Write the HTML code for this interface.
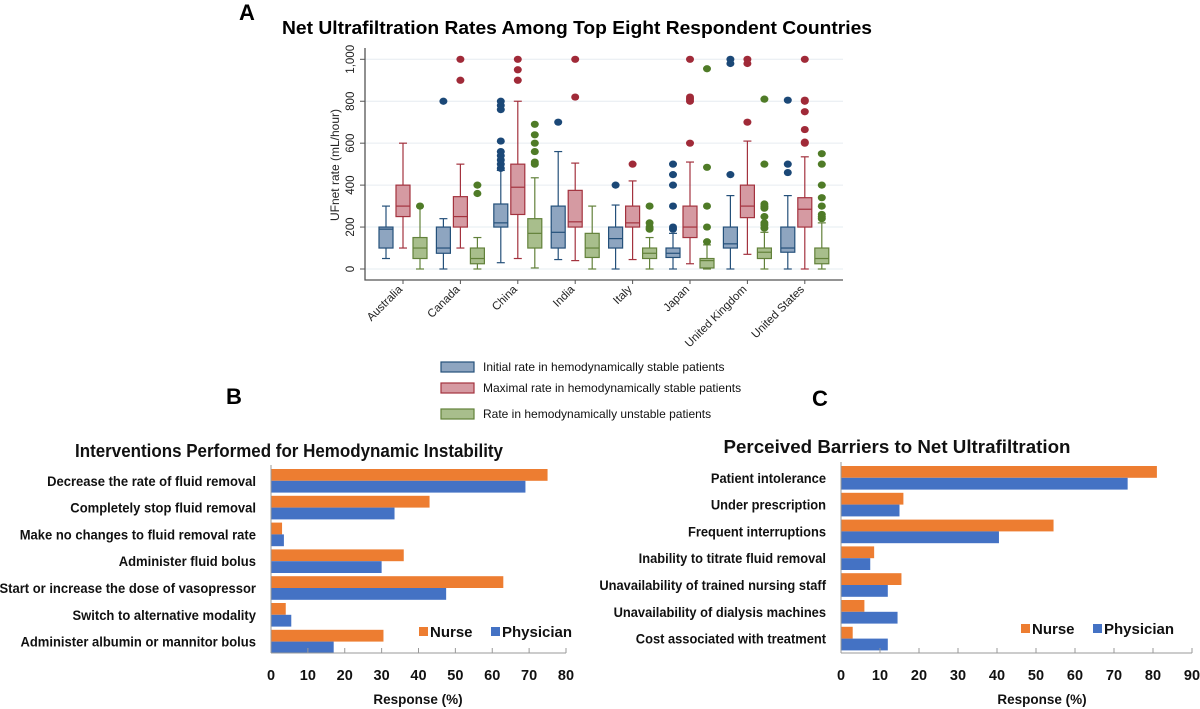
<!DOCTYPE html>
<html><head><meta charset="utf-8"><style>
html,body{margin:0;padding:0;background:#fff;}
svg{display:block;font-family:"Liberation Sans",sans-serif;}
</style></head><body>
<svg id="fig" width="1200" height="709" viewBox="0 0 1200 709" xmlns="http://www.w3.org/2000/svg">
<text x="247" y="20" font-size="22" font-weight="bold" text-anchor="middle">A</text>
<text x="577" y="34" font-size="18" font-weight="bold" text-anchor="middle" textLength="590" lengthAdjust="spacingAndGlyphs">Net Ultrafiltration Rates Among Top Eight Respondent Countries</text>
<text x="234" y="404" font-size="22" font-weight="bold" text-anchor="middle">B</text>
<text x="820" y="406" font-size="22" font-weight="bold" text-anchor="middle">C</text>
<g id="chartA"></g>
<g id="chartB"></g>
<g id="chartC"></g>
</svg>
<script>
// ---- Panel A data ----
const countries = ["Australia","Canada","China","India","Italy","Japan","United Kingdom","United States"];
const seriesNames = ["Initial rate in hemodynamically stable patients","Maximal rate in hemodynamically stable patients","Rate in hemodynamically unstable patients"];
// [whiskerLow, q1, median, q3, whiskerHigh]
const initialStats = [[50,100,190,200,300],[0,75,100,200,240],[30,200,220,310,470],[45,100,175,300,560],[0,100,145,200,305],[0,55,75,100,170],[0,100,120,200,350],[0,80,100,200,350]];
const maximalStats = [[100,250,300,400,600],[100,200,250,345,500],[50,260,390,500,800],[40,200,225,375,505],[45,200,220,300,420],[25,150,200,300,510],[70,245,300,400,610],[0,200,285,340,535]];
const unstableStats = [[0,50,100,150,300],[0,25,50,100,150],[5,100,170,240,435],[0,55,100,170,300],[0,50,75,100,150],[0,5,40,50,115],[0,50,80,100,175],[0,25,50,100,220]];
const initialOut = [[],[800],[480,500,520,540,560,610,760,780,800],[700],[400],[190,200,300,400,450,500],[450,980,1000],[460,500,805]];
const maximalOut = [[],[900,1000],[900,950,1000],[820,1000],[500],[600,800,810,820,1000],[700,980,1000],[600,605,665,750,800,805,1000]];
const unstableOut = [[300],[360,400],[500,510,560,600,640,690],[],[190,200,220,300],[130,200,300,485,955],[195,210,220,250,290,300,310,500,810],[240,250,260,300,340,400,500,550]];
const yTicksA = [0,200,400,600,800,1000];
const yTickLabelsA = ["0","200","400","600","800","1,000"];

// ---- Panel B data ----
const interventions = ["Decrease the rate of fluid removal","Completely stop fluid removal","Make no changes to fluid removal rate","Administer fluid bolus","Start or increase the dose of vasopressor","Switch to alternative modality","Administer albumin or mannitor bolus"];
const nurseB = [75,43,3,36,63,4,30.5];
const physB = [69,33.5,3.5,30,47.5,5.5,17];
const ticksB = [0,10,20,30,40,50,60,70,80];

// ---- Panel C data ----
const barriers = ["Patient intolerance","Under prescription","Frequent interruptions","Inability  to titrate fluid removal","Unavailability of trained nursing staff","Unavailability of dialysis machines","Cost associated with treatment"];
const nurseC = [81,16,54.5,8.5,15.5,6,3];
const physC = [73.5,15,40.5,7.5,12,14.5,12];
const ticksC = [0,10,20,30,40,50,60,70,80,90];

const NS = "http://www.w3.org/2000/svg";
function mk(parent, tag, attrs, txt){
  const e = document.createElementNS(NS, tag);
  for (const k in attrs) e.setAttribute(k, attrs[k]);
  if (txt !== undefined) e.textContent = txt;
  parent.appendChild(e);
  return e;
}

// ===== Panel A =====
(function(){
  const g = document.getElementById('chartA');
  const y = v => 269 - 0.2097 * v;
  const xg = i => 386 + 57.4 * i;
  const offs = [0, 17, 34];
  const fills = ["#8ea5c0","#d59aa2","#a8be8c"];
  const strokes = ["#24507a","#a3323e","#62813a"];
  const dots = ["#1b4877","#a02a38","#4f7b27"];
  yTicksA.forEach((t, i) => {
    const gl = mk(g, 'line', {x1:365, x2:843, y1:y(t), y2:y(t), stroke:"#e6ecf0", "stroke-width":1});
    
    
    const tk = mk(g, 'line', {x1:360, x2:365, y1:y(t), y2:y(t), stroke:"#555"});
    
    
    const lb = mk(g, 'text', {x:354, y:y(t), "font-size":11.5, fill:"#222", "text-anchor":"middle", transform:`rotate(-90 354 ${y(t)})`}, yTickLabelsA[i]);
    
    
  });
  const ax = mk(g, 'path', {d:"M365,48 V280 H843", fill:"none", stroke:"#555", "stroke-width":1.3});
  
  
  const yt = mk(g, 'text', {x:339, y:165, "font-size":12, fill:"#222", "text-anchor":"middle", transform:"rotate(-90 339 165)"}, "UFnet rate (mL/hour)");
  
  
  const allStats = [initialStats, maximalStats, unstableStats];
  const allOut = [initialOut, maximalOut, unstableOut];
  countries.forEach((c, i) => {
    for (let s = 0; s < 3; s++) {
      const cx = xg(i) + offs[s];
      const st = allStats[s][i];
      const bg = mk(g, 'g', {});
      
      
      mk(bg, 'line', {x1:cx, x2:cx, y1:y(st[0]), y2:y(st[4]), stroke:strokes[s], "stroke-width":1.2});
      mk(bg, 'line', {x1:cx-4, x2:cx+4, y1:y(st[0]), y2:y(st[0]), stroke:strokes[s], "stroke-width":1.2});
      mk(bg, 'line', {x1:cx-4, x2:cx+4, y1:y(st[4]), y2:y(st[4]), stroke:strokes[s], "stroke-width":1.2});
      mk(bg, 'rect', {x:cx-7, y:y(st[3]), width:14, height:Math.max(1, y(st[1]) - y(st[3])), fill:fills[s], stroke:strokes[s], "stroke-width":1.2});
      mk(bg, 'line', {x1:cx-7, x2:cx+7, y1:y(st[2]), y2:y(st[2]), stroke:strokes[s], "stroke-width":1.2});
      allOut[s][i].forEach(v => {
        const d = mk(g, 'ellipse', {cx:cx, cy:y(v), rx:4, ry:3.6, fill:dots[s]});
        
        
      });
    }
    const tx = xg(i) + 17;
    const tk = mk(g, 'line', {x1:tx, x2:tx, y1:280, y2:284, stroke:"#555"});
    
    
    const lb = mk(g, 'text', {x:tx, y:290, "font-size":11.5, fill:"#222", "text-anchor":"end", transform:`rotate(-45 ${tx} 290)`}, c);
    
    
  });
  const legY = [367, 388, 414];
  seriesNames.forEach((n, s) => {
    const lg = mk(g, 'g', {});
    
    
    mk(lg, 'rect', {x:441, y:legY[s]-5, width:33, height:10, fill:fills[s], stroke:strokes[s], "stroke-width":1.2});
    mk(lg, 'text', {x:483, y:legY[s]+4, "font-size":12, fill:"#111"}, n);
  });
})();

// ===== Bar panels =====
function barPanel(id, cats, nurse, phys, ticks, x0, x1, vmax, labelRight, title, titleX, titleW, titleY, legX, legY, respX, labelScale){
  const g = document.getElementById(id);
  const x = v => x0 + (x1 - x0) * v / vmax;
  const top0 = id === 'chartB' ? 469 : 466;
  const step = 26.8;
  const bh = 11.8;
  const tt = mk(g, 'text', {x:titleX, y:titleY, "font-size":18, "font-weight":"bold", fill:"#111", "text-anchor":"middle", textLength:titleW, lengthAdjust:"spacingAndGlyphs"}, title);
  
  
  cats.forEach((c, i) => {
    const ty = top0 + step * i;
    const bn = mk(g, 'rect', {x:x0, y:ty, width:x(nurse[i]) - x0, height:bh, fill:"#ED7D31"});
    
    
    const bp = mk(g, 'rect', {x:x0, y:ty+bh, width:x(phys[i]) - x0, height:bh, fill:"#4472C4"});
    
    
    const lb = mk(g, 'text', {x:labelRight, y:ty+bh+5, "font-size":14, "font-weight":"bold", fill:"#111", "text-anchor":"end", transform:`translate(${labelRight} 0) scale(${labelScale} 1) translate(${-labelRight} 0)`}, c);
    
    
  });
  const ax = mk(g, 'line', {x1:x0, x2:x1, y1:653, y2:653, stroke:"#999", "stroke-width":1});
  
  
  const ay = mk(g, 'line', {x1:x0, x2:x0, y1:top0-4, y2:653, stroke:"#999", "stroke-width":1});
  
  
  ticks.forEach(t => {
    const tk = mk(g, 'line', {x1:x(t), x2:x(t), y1:648, y2:653, stroke:"#999"});
    
    
    const lb = mk(g, 'text', {x:x(t), y:680, "font-size":14.5, "font-weight":"bold", fill:"#111", "text-anchor":"middle"}, String(t));
    
    
  });
  const rx = mk(g, 'text', {x:respX, y:704, "font-size":13.5, "font-weight":"bold", fill:"#111", "text-anchor":"middle"}, "Response (%)");
  
  
  const l1 = mk(g, 'g', {});
  
  
  mk(l1, 'rect', {x:legX, y:legY-5, width:9, height:9, fill:"#ED7D31"});
  mk(l1, 'text', {x:legX+11, y:legY+5, "font-size":15, "font-weight":"bold", fill:"#111"}, "Nurse");
  const l2 = mk(g, 'g', {});
  
  
  mk(l2, 'rect', {x:legX+72, y:legY-5, width:9, height:9, fill:"#4472C4"});
  mk(l2, 'text', {x:legX+83, y:legY+5, "font-size":15, "font-weight":"bold", fill:"#111"}, "Physician");
}
barPanel('chartB', interventions, nurseB, physB, ticksB, 271, 566, 80, 256,
  "Interventions Performed for Hemodynamic Instability", 289, 428, 457, 419, 632, 418, 0.93);
barPanel('chartC', barriers, nurseC, physC, ticksC, 841, 1192, 90, 826,
  "Perceived Barriers to Net Ultrafiltration", 897, 347, 453, 1021, 629, 1042, 0.92);
</script>
</body></html>
